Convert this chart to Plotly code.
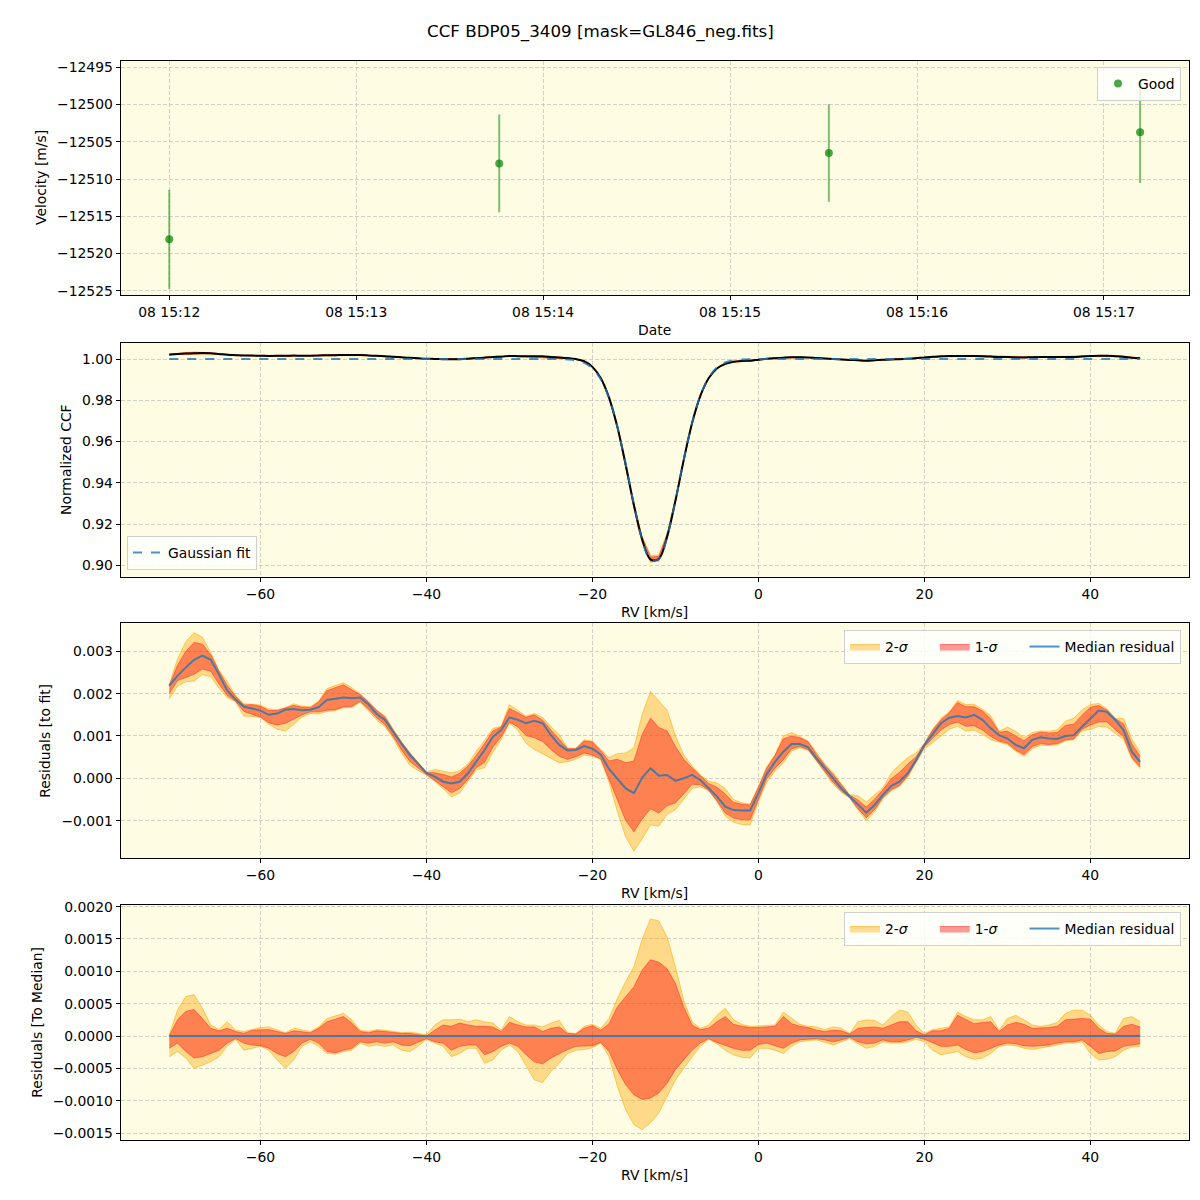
import numpy as np
import plotly.graph_objects as go

# ---------------- data ----------------
title_text = "CCF BDP05_3409 [mask=GL846_neg.fits]"

obs_times = ["2022-08-08 15:12:00.0", "2022-08-08 15:13:45.9",
             "2022-08-08 15:15:31.7", "2022-08-08 15:17:11.6"]
obs_rv = [-12518.1, -12507.9, -12506.5, -12503.7]
obs_err = [6.67, 6.56, 6.54, 6.85]

rv = list(range(-71, 47))  # km/s

fit_ccf = ([1.0] * 47 +
           [0.99993, 0.99977, 0.99931, 0.99814, 0.99549, 0.99023, 0.98109, 0.96721,
            0.94914, 0.92944, 0.91236, 0.90260, 0.90314, 0.91381, 0.93137, 0.95108,
            0.96881, 0.98220, 0.99091, 0.99585, 0.99830, 0.99938, 0.99980, 0.99994] +
           [1.0] * 47)

# median residual to the fit, units of 1e-3
med_e3 = [2.19, 2.42, 2.62, 2.80, 2.90, 2.80, 2.45, 2.07, 1.86, 1.69,
          1.65, 1.60, 1.50, 1.53, 1.62, 1.64, 1.61, 1.62, 1.68, 1.85,
          1.88, 1.91, 1.89, 1.91, 1.75, 1.52, 1.38, 1.08, 0.81, 0.55,
          0.34, 0.13, 0.04, -0.08, -0.12, -0.08, 0.12, 0.39, 0.67, 0.98,
          1.14, 1.44, 1.38, 1.30, 1.36, 1.30, 1.02, 0.79, 0.66, 0.67,
          0.76, 0.70, 0.56, 0.22, 0.00, -0.24, -0.35, 0.02, 0.24, 0.06,
          0.08, -0.06, 0.00, 0.08, -0.04, -0.24, -0.43, -0.67, -0.75, -0.76,
          -0.76, -0.35, 0.10, 0.39, 0.63, 0.81, 0.81, 0.73, 0.47, 0.24,
          0.00, -0.24, -0.43, -0.63, -0.81, -0.63, -0.39, -0.18, -0.08, 0.12,
          0.43, 0.79, 1.06, 1.30, 1.43, 1.47, 1.44, 1.50, 1.38, 1.18,
          1.02, 0.94, 0.79, 0.71, 0.91, 0.97, 0.94, 0.93, 1.00, 1.02,
          1.22, 1.42, 1.60, 1.57, 1.38, 1.14, 0.63, 0.39]

# band edges relative to the median, units of 1e-3
hi1_e3 = [0.00, 0.25, 0.38, 0.41, 0.27, 0.12, 0.08, 0.12, 0.07, 0.04,
          0.09, 0.10, 0.10, 0.07, 0.04, 0.08, 0.07, 0.05, 0.12, 0.22,
          0.26, 0.30, 0.20, 0.07, 0.05, 0.08, 0.07, 0.05, 0.04, 0.04,
          0.02, 0.00, 0.09, 0.17, 0.15, 0.20, 0.17, 0.15, 0.15, 0.14,
          0.07, 0.21, 0.17, 0.14, 0.14, 0.07, 0.12, 0.14, 0.04, 0.03,
          0.12, 0.16, 0.09, 0.19, 0.45, 0.61, 0.76, 1.02, 1.18, 1.14,
          1.04, 0.81, 0.45, 0.17, 0.10, 0.12, 0.22, 0.30, 0.18, 0.15,
          0.13, 0.13, 0.14, 0.15, 0.30, 0.19, 0.15, 0.13, 0.09, 0.07,
          0.09, 0.08, 0.03, 0.12, 0.13, 0.14, 0.12, 0.17, 0.22, 0.22,
          0.08, 0.02, 0.08, 0.08, 0.12, 0.32, 0.25, 0.19, 0.21, 0.22,
          0.07, 0.17, 0.21, 0.18, 0.12, 0.12, 0.13, 0.15, 0.25, 0.26,
          0.27, 0.26, 0.12, 0.04, 0.03, 0.15, 0.18, 0.14]
lo1_e3 = [-0.19, -0.11, -0.24, -0.34, -0.32, -0.27, -0.22, -0.11, -0.04, -0.11,
          -0.14, -0.15, -0.19, -0.27, -0.32, -0.24, -0.11, -0.05, -0.11, -0.24,
          -0.26, -0.22, -0.19, -0.09, -0.11, -0.09, -0.11, -0.09, -0.14, -0.15,
          -0.10, -0.04, -0.09, -0.11, -0.22, -0.16, -0.14, -0.14, -0.29, -0.24,
          -0.16, -0.11, -0.16, -0.29, -0.40, -0.43, -0.34, -0.27, -0.21, -0.16,
          -0.16, -0.15, -0.10, -0.24, -0.52, -0.75, -0.91, -0.98, -0.96, -0.88,
          -0.73, -0.52, -0.37, -0.22, -0.11, -0.04, -0.10, -0.15, -0.19, -0.22,
          -0.22, -0.13, -0.11, -0.15, -0.19, -0.11, -0.06, -0.05, -0.04, -0.06,
          -0.09, -0.06, -0.02, -0.09, -0.12, -0.11, -0.06, -0.09, -0.09, -0.06,
          -0.02, -0.05, -0.11, -0.16, -0.16, -0.14, -0.21, -0.26, -0.24, -0.19,
          -0.14, -0.11, -0.12, -0.15, -0.16, -0.15, -0.14, -0.11, -0.09, -0.09,
          -0.06, -0.16, -0.27, -0.24, -0.23, -0.16, -0.14, -0.12]
hi2_e3 = [0.02, 0.40, 0.61, 0.64, 0.43, 0.17, 0.10, 0.22, 0.09, 0.07,
          0.10, 0.13, 0.14, 0.09, 0.05, 0.12, 0.09, 0.07, 0.14, 0.27,
          0.31, 0.35, 0.25, 0.09, 0.07, 0.10, 0.09, 0.07, 0.05, 0.06,
          0.04, 0.02, 0.17, 0.25, 0.25, 0.26, 0.22, 0.25, 0.22, 0.20,
          0.09, 0.30, 0.22, 0.17, 0.17, 0.14, 0.20, 0.24, 0.05, 0.04,
          0.15, 0.18, 0.12, 0.27, 0.58, 0.84, 1.07, 1.50, 1.81, 1.78,
          1.53, 1.07, 0.55, 0.22, 0.12, 0.17, 0.32, 0.43, 0.25, 0.18,
          0.15, 0.16, 0.17, 0.17, 0.37, 0.27, 0.18, 0.15, 0.14, 0.10,
          0.14, 0.12, 0.04, 0.22, 0.25, 0.24, 0.17, 0.30, 0.40, 0.37,
          0.17, 0.04, 0.10, 0.12, 0.14, 0.37, 0.30, 0.25, 0.25, 0.30,
          0.09, 0.27, 0.32, 0.25, 0.17, 0.15, 0.17, 0.21, 0.35, 0.40,
          0.40, 0.32, 0.17, 0.07, 0.04, 0.27, 0.30, 0.22]
lo2_e3 = [-0.32, -0.24, -0.34, -0.50, -0.45, -0.40, -0.32, -0.16, -0.05, -0.22,
          -0.19, -0.16, -0.22, -0.37, -0.50, -0.37, -0.16, -0.09, -0.16, -0.27,
          -0.28, -0.24, -0.22, -0.11, -0.16, -0.14, -0.16, -0.14, -0.22, -0.24,
          -0.16, -0.05, -0.11, -0.16, -0.32, -0.27, -0.19, -0.19, -0.42, -0.37,
          -0.22, -0.14, -0.24, -0.47, -0.68, -0.72, -0.55, -0.42, -0.27, -0.22,
          -0.21, -0.18, -0.11, -0.32, -0.78, -1.14, -1.37, -1.45, -1.34, -1.19,
          -0.93, -0.68, -0.50, -0.32, -0.16, -0.05, -0.12, -0.22, -0.29, -0.33,
          -0.34, -0.19, -0.19, -0.22, -0.27, -0.16, -0.09, -0.07, -0.06, -0.10,
          -0.14, -0.09, -0.04, -0.12, -0.19, -0.16, -0.09, -0.11, -0.11, -0.09,
          -0.05, -0.09, -0.22, -0.29, -0.27, -0.24, -0.32, -0.36, -0.34, -0.27,
          -0.16, -0.14, -0.15, -0.19, -0.21, -0.19, -0.16, -0.14, -0.11, -0.11,
          -0.09, -0.27, -0.37, -0.36, -0.32, -0.22, -0.17, -0.16]

x_ticks_rv = [-60, -40, -20, 0, 20, 40]
PAD = "\u00a0" * 5  # spacing in horizontal legends

# ---------------- derived arrays ----------------
rv_a = np.array(rv, dtype=float)
fit = np.array(fit_ccf)
med = np.array(med_e3) * 1e-3
hi1 = np.array(hi1_e3) * 1e-3
lo1 = np.array(lo1_e3) * 1e-3
hi2 = np.array(hi2_e3) * 1e-3
lo2 = np.array(lo2_e3) * 1e-3
ccf_med = fit + med

# ---------------- styling ----------------
FONT = "DejaVu Sans"
BG = "#FEFCE2"
C2 = "rgba(255,165,0,0.4)"
C2E = "rgba(255,165,0,0.55)"
C1 = "rgba(255,0,0,0.4)"
C1E = "rgba(255,40,40,0.55)"
CMED = "rgba(31,119,180,0.8)"

W = H = 1200
XD = [120.67 / W, 1188.7 / W]
def yd(top, bot):
    return [1 - bot / H, 1 - top / H]

fig = go.Figure()

# panel 1
fig.add_trace(go.Scatter(
    x=obs_times, y=obs_rv, mode="markers", name="Good",
    marker=dict(color="rgba(0,128,0,0.7)", size=8, line=dict(width=0)),
    error_y=dict(type="data", array=obs_err, color="rgba(0,128,0,0.5)", thickness=2, width=0),
    xaxis="x", yaxis="y", legend="legend"))

# panel 2: CCF bands, median CCF, gaussian fit
def band(xax, yax, lo, hi, fillc, edgec, name, leg, show):
    fig.add_trace(go.Scatter(x=rv_a, y=lo, mode="lines", line=dict(color=edgec, width=1),
                             showlegend=False, xaxis=xax, yaxis=yax, hoverinfo="skip"))
    fig.add_trace(go.Scatter(x=rv_a, y=hi, mode="lines", line=dict(color=edgec, width=1),
                             fill="tonexty", fillcolor=fillc, name=name, showlegend=show,
                             legend=leg, xaxis=xax, yaxis=yax, hoverinfo="skip"))

band("x2", "y2", ccf_med + lo2, ccf_med + hi2, C2, C2E, "2σ", "legend2", False)
band("x2", "y2", ccf_med + lo1, ccf_med + hi1, C1, C1E, "1σ", "legend2", False)
fig.add_trace(go.Scatter(x=rv_a, y=ccf_med, mode="lines", line=dict(color="black", width=2, shape="spline"),
                         showlegend=False, xaxis="x2", yaxis="y2"))
fig.add_trace(go.Scatter(x=rv_a, y=fit, mode="lines", name="Gaussian fit",
                         line=dict(color=CMED, width=2, dash="dash", shape="spline"),
                         xaxis="x2", yaxis="y2", legend="legend2"))

# panel 3: residuals to fit
band("x3", "y3", med + lo2, med + hi2, C2, C2E, "2-<i>σ</i>" + PAD, "legend3", True)
band("x3", "y3", med + lo1, med + hi1, C1, C1E, "1-<i>σ</i>" + PAD, "legend3", True)
fig.add_trace(go.Scatter(x=rv_a, y=med, mode="lines", name="Median residual",
                         line=dict(color=CMED, width=2), xaxis="x3", yaxis="y3", legend="legend3"))

# panel 4: residuals to median
band("x4", "y4", lo2, hi2, C2, C2E, "2-<i>σ</i>" + PAD, "legend4", True)
band("x4", "y4", lo1, hi1, C1, C1E, "1-<i>σ</i>" + PAD, "legend4", True)
fig.add_trace(go.Scatter(x=rv_a, y=med - med, mode="lines", name="Median residual",
                         line=dict(color=CMED, width=2), xaxis="x4", yaxis="y4", legend="legend4"))

axcommon = dict(showline=True, linecolor="black", linewidth=1, mirror=True,
                ticks="outside", ticklen=4, tickwidth=1, tickcolor="black",
                showgrid=True, gridcolor="rgba(180,180,180,0.6)", griddash="4px,2px", gridwidth=1,
                zeroline=False, automargin=False,
                tickfont=dict(family=FONT, size=13.9, color="black"))

rv_range = [-76.85, 51.85]
layout = dict(
    width=W, height=H, margin=dict(l=0, r=0, t=0, b=0),
    paper_bgcolor="white", plot_bgcolor=BG, template="none",
    font=dict(family=FONT, size=13.9, color="black"),
    xaxis=dict(axcommon, domain=XD, anchor="y", type="date",
               range=["2022-08-08 15:11:44.4", "2022-08-08 15:17:27.2"],
               tick0="2022-08-08 15:12:00", dtick=60000, tickformat="%d %H:%M"),
    yaxis=dict(axcommon, domain=yd(60.67, 295), anchor="x", range=[-12525.58, -12494.1],
               tickvals=[-12525, -12520, -12515, -12510, -12505, -12500, -12495],
               tickformat="d"),
    xaxis2=dict(axcommon, domain=XD, anchor="y2", range=rv_range, tickvals=x_ticks_rv),
    yaxis2=dict(axcommon, domain=yd(342.67, 577.3), anchor="x2", range=[0.89418, 1.00792],
                tickvals=[0.90, 0.92, 0.94, 0.96, 0.98, 1.00], tickformat=".2f"),
    xaxis3=dict(axcommon, domain=XD, anchor="y3", range=rv_range, tickvals=x_ticks_rv),
    yaxis3=dict(axcommon, domain=yd(623.3, 858), anchor="x3", range=[-0.001882, 0.003662],
                tickvals=[-0.001, 0.0, 0.001, 0.002, 0.003], tickformat=".3f"),
    xaxis4=dict(axcommon, domain=XD, anchor="y4", range=rv_range, tickvals=x_ticks_rv),
    yaxis4=dict(axcommon, domain=yd(905.3, 1140), anchor="x4", range=[-0.001608, 0.002021],
                tickvals=[-0.0015, -0.001, -0.0005, 0.0, 0.0005, 0.001, 0.0015, 0.002],
                tickformat=".4f"),
)
legbox = dict(bgcolor="rgba(255,255,255,0.8)", bordercolor="#d0d0d0", borderwidth=1,
              font=dict(family=FONT, size=13.9, color="black"), traceorder="normal")
layout["legend"] = dict(legbox, x=1181 / W, y=1 - 67 / H, xanchor="right", yanchor="top")
layout["legend2"] = dict(legbox, x=127 / W, y=1 - 570 / H, xanchor="left", yanchor="bottom")
layout["legend3"] = dict(legbox, x=1181 / W, y=1 - 630 / H, xanchor="right", yanchor="top",
                         orientation="h")
layout["legend4"] = dict(legbox, x=1181 / W, y=1 - 912 / H, xanchor="right", yanchor="top",
                         orientation="h")
fig.update_layout(**layout)

def ann(text, x, y, angle=0, size=13.9):
    fig.add_annotation(text=text, x=x / W, y=1 - y / H, xref="paper", yref="paper",
                       showarrow=False, textangle=angle, xanchor="center", yanchor="middle",
                       font=dict(family=FONT, size=size, color="black"))

ann(title_text, 600, 32, size=16.7)
ann("Velocity [m/s]", 41, 178, -90)
ann("Date", 654.7, 330)
ann("Normalized CCF", 66, 460, -90)
ann("RV [km/s]", 654.7, 612)
ann("Residuals [to fit]", 45, 740.7, -90)
ann("RV [km/s]", 654.7, 893)
ann("Residuals [To Median]", 37, 1022.7, -90)
ann("RV [km/s]", 654.7, 1175)

fig.write_html("out.html")
